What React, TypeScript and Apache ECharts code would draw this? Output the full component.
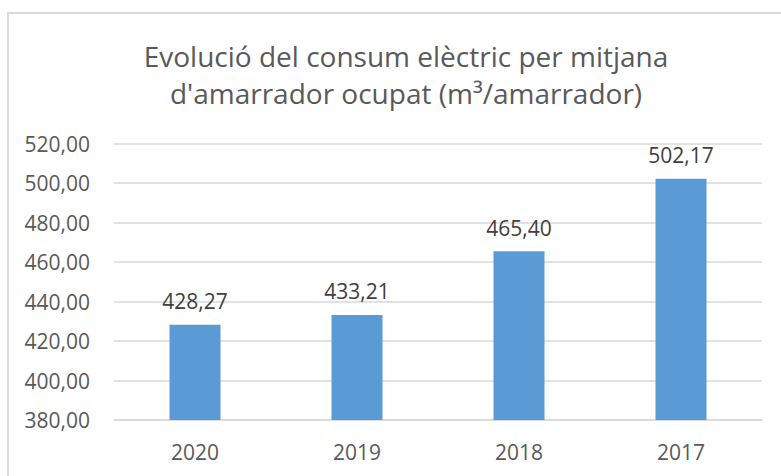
import React, { useEffect, useRef } from "react";
import * as echarts from "echarts";

const categories = ["2020", "2019", "2018", "2017"];
const values = [428.27, 433.21, 465.4, 502.17];
const titleLines = [
  "Evolució del consum elèctric per mitjana",
  "d'amarrador ocupat (m³/amarrador)",
];
const yMin = 380;
const yMax = 520;
const yStep = 20;

const fmt = (v: number) => v.toFixed(2).replace(".", ",");

export default function App() {
  const ref = useRef<HTMLDivElement>(null);
  useEffect(() => {
    if (!ref.current) return;
    const chart = echarts.init(ref.current, undefined, { renderer: "svg" });
    const font = "'Open Sans', sans-serif";
    chart.setOption({
      animation: false,
      backgroundColor: "#ffffff",
      title: {
        text: titleLines.join("\n"),
        left: 401,
        top: 32,
        textAlign: "center",
        textStyle: {
          fontFamily: font,
          fontSize: 28,
          fontWeight: "normal",
          color: "#595959",
          lineHeight: 37,
        },
      },
      graphic: [
        {
          type: "rect",
          shape: { x: 8, y: 13, width: 800, height: 500 },
          style: { fill: "none", stroke: "#D9D9D9", lineWidth: 2 },
          silent: true,
        },
      ],
      grid: { left: 114, right: 19, top: 143.5, bottom: 56 },
      xAxis: {
        type: "category",
        data: categories,
        axisLine: { lineStyle: { color: "#D9D9D9", width: 1.5 } },
        axisTick: { show: false },
        axisLabel: {
          margin: 21,
          fontFamily: font,
          fontSize: 21,
          color: "#595959",
        },
      },
      yAxis: {
        type: "value",
        min: yMin,
        max: yMax,
        interval: yStep,
        axisLine: { show: false },
        axisTick: { show: false },
        splitLine: { lineStyle: { color: "#D9D9D9", width: 1.5 } },
        axisLabel: {
          margin: 24,
          fontFamily: font,
          fontSize: 21,
          color: "#595959",
          formatter: (v: number) => fmt(v),
        },
      },
      series: [
        {
          type: "bar",
          data: values,
          barWidth: 51,
          itemStyle: { color: "#5B9BD5" },
          label: {
            show: true,
            position: "top",
            distance: 13,
            fontFamily: font,
            fontSize: 21,
            color: "#404040",
            formatter: (p: any) => fmt(p.value),
          },
        },
      ],
    });
    return () => chart.dispose();
  }, []);
  return (
    <div
      ref={ref}
      style={{ position: "fixed", left: 0, top: 0, width: 781, height: 476 }}
    />
  );
}
